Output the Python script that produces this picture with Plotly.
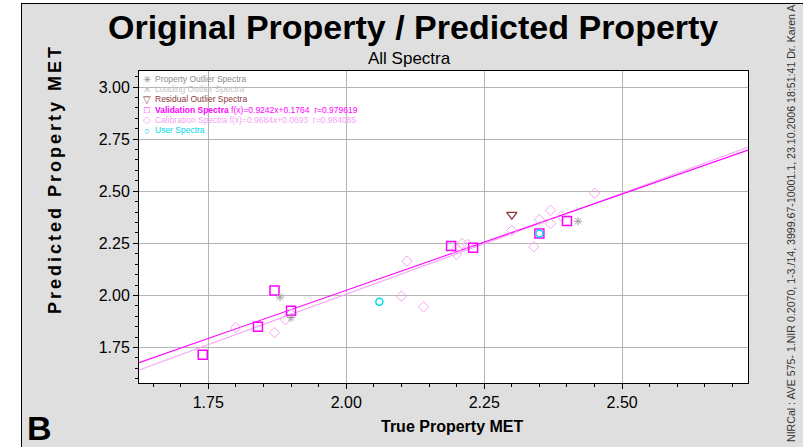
import plotly.graph_objects as go

# ---- data -------------------------------------------------------------
val_x = [1.74, 1.84, 1.87, 1.90, 2.19, 2.23, 2.35, 2.40]
val_y = [1.715, 1.850, 2.024, 1.927, 2.237, 2.229, 2.297, 2.357]

cal_x = [1.80, 1.87, 1.89, 1.90, 2.10, 2.14, 2.11, 2.20, 2.20, 2.21, 2.22,
         2.30, 2.34, 2.35, 2.37, 2.37, 2.39, 2.45]
cal_y = [1.846, 1.822, 1.884, 1.910, 1.997, 1.945, 2.165, 2.197, 2.223, 2.249, 2.245,
         2.312, 2.234, 2.364, 2.408, 2.345, 2.381, 2.491]

res_x = [2.30]
res_y = [2.388]

prop_x = [1.88, 1.90, 2.42]
prop_y = [1.992, 1.894, 2.356]

user_x = [2.06, 2.35]
user_y = [1.970, 2.297]

val_fit = {"slope": 0.9242, "icpt": 0.1764, "r": 0.979619}
cal_fit = {"slope": 0.9684, "icpt": 0.0693, "r": 0.984085}

x_range = [1.6245, 2.728]
y_range = [1.580, 3.077]
tick_vals = [1.75, 2.00, 2.25, 2.50, 2.75, 3.00]

# ---- page geometry ----------------------------------------------------
W, H = 803, 447
L, R, T, B = 139, 55, 71, 64
PW, PH = W - L - R, H - T - B


def px(x):
    return (x - L) / PW


def py(y):
    return (H - B - y) / PH


FONT = "Liberation Sans, Arial, sans-serif"
MAGENTA = "#ff00ff"
PINK = "#f4a4f4"
BROWN = "#8b3a3a"
GREY = "#8c8c8c"
LGREY = "#c4c4c4"
CYAN = "#00d8e8"

fig = go.Figure()

# regression lines
for fit, col in [(cal_fit, PINK), (val_fit, MAGENTA)]:
    fig.add_trace(go.Scatter(
        x=x_range,
        y=[fit["slope"] * v + fit["icpt"] for v in x_range],
        mode="lines", line=dict(color=col, width=1.1),
        hoverinfo="skip", showlegend=False))

# spectra markers
fig.add_trace(go.Scatter(x=cal_x, y=cal_y, mode="markers", showlegend=False,
                         marker=dict(symbol="diamond-open", size=8, color=PINK,
                                     line=dict(width=1))))
fig.add_trace(go.Scatter(x=val_x, y=val_y, mode="markers", showlegend=False,
                         marker=dict(symbol="square-open", size=9, color=MAGENTA,
                                     line=dict(width=1.5))))
fig.add_trace(go.Scatter(x=res_x, y=res_y, mode="markers", showlegend=False,
                         marker=dict(symbol="triangle-down-open", size=9, color=BROWN,
                                     line=dict(width=1.3))))
fig.add_trace(go.Scatter(x=prop_x, y=prop_y, mode="markers", showlegend=False,
                         marker=dict(symbol="asterisk-open", size=7, color="#a0a0a0",
                                     line=dict(width=1))))
fig.add_trace(go.Scatter(x=user_x, y=user_y, mode="markers", showlegend=False,
                         marker=dict(symbol="circle-open", size=7, color=CYAN,
                                     line=dict(width=1.5))))

ann = []


def text(x, y, s, size, color="black", xa="center", ya="middle", angle=0):
    ann.append(dict(x=px(x), y=py(y), xref="paper", yref="paper", text=s,
                    showarrow=False, xanchor=xa, yanchor=ya, textangle=angle,
                    font=dict(family=FONT, size=size, color=color)))


text(413, 27, "<b>Original Property / Predicted Property</b>", 34)
text(409, 59, "All Spectra", 17)
text(452, 426, "<b>True Property MET</b>", 16)
text(39, 428, "<b>B</b>", 34)

sp = "\u2006"
ylab = sp.join("Predicted Property MET")
text(55, 181, "<b>" + ylab + "</b>", 18, angle=-90)

stamp = ("NIRCal : AVE 575- 1.NIR 0.2070, 1-3./14, 3999.67-10001.1, "
         "23.10.2006 18:51:41 Dr. Karen A")
text(791, 444, stamp, 10.6, color="#333333", ya="bottom", angle=-90)

# legend block
legend_rows = [
    ("\u2733", GREY, "Property Outlier Spectra"),
    ("\u2715", LGREY, "Loading Outlier Spectra"),
    ("\u25BD", BROWN, "Residual Outlier Spectra"),
    ("\u25A1", MAGENTA, "<b>Validation Spectra</b> f(x)=%.4fx+%.4f  r=%.6f"
     % (val_fit["slope"], val_fit["icpt"], val_fit["r"])),
    ("\u25C7", PINK, "Calibration Spectra f(x)=%.4fx+%.4f  r=%.6f"
     % (cal_fit["slope"], cal_fit["icpt"], cal_fit["r"])),
    ("\u25CB", CYAN, "User Spectra"),
]
for i, (sym, col, label) in enumerate(legend_rows):
    yy = 79 + 10.2 * i
    text(146.5, yy, sym, 9.5, color=col)
    text(153, yy, label, 8.5, color=col, xa="left")

shapes = [
    dict(type="rect", xref="paper", yref="paper", x0=px(0), x1=px(21),
         y0=py(H), y1=py(0), fillcolor="white", line=dict(width=0)),
    dict(type="rect", xref="paper", yref="paper", x0=px(21), x1=px(W),
         y0=py(3), y1=py(0), fillcolor="white", line=dict(width=0)),
    dict(type="line", xref="paper", yref="paper", x0=px(21.5), x1=px(21.5),
         y0=py(H), y1=py(3), line=dict(color="black", width=1)),
    dict(type="line", xref="paper", yref="paper", x0=px(21), x1=px(W),
         y0=py(3.5), y1=py(3.5), line=dict(color="black", width=1)),
]

axis_common = dict(
    tickvals=tick_vals, tickformat=".2f", ticks="outside", ticklen=5,
    tickcolor="black", showline=True, linecolor="black", linewidth=1,
    mirror=True, showgrid=True, gridcolor="#b4b4b4", gridwidth=1,
    zeroline=False, tickfont=dict(family=FONT, size=16, color="black"),
    minor=dict(dtick=0.05, tick0=0, ticks="outside", ticklen=3,
               tickcolor="black", showgrid=False),
)

fig.update_layout(
    width=W, height=H,
    margin=dict(l=L, r=R, t=T, b=B, pad=0),
    paper_bgcolor="#dfdfdf", plot_bgcolor="white",
    xaxis=dict(range=x_range, **axis_common),
    yaxis=dict(range=y_range, **axis_common),
    annotations=ann, shapes=shapes, showlegend=False,
    font=dict(family=FONT),
)

fig.write_html("out.html")
